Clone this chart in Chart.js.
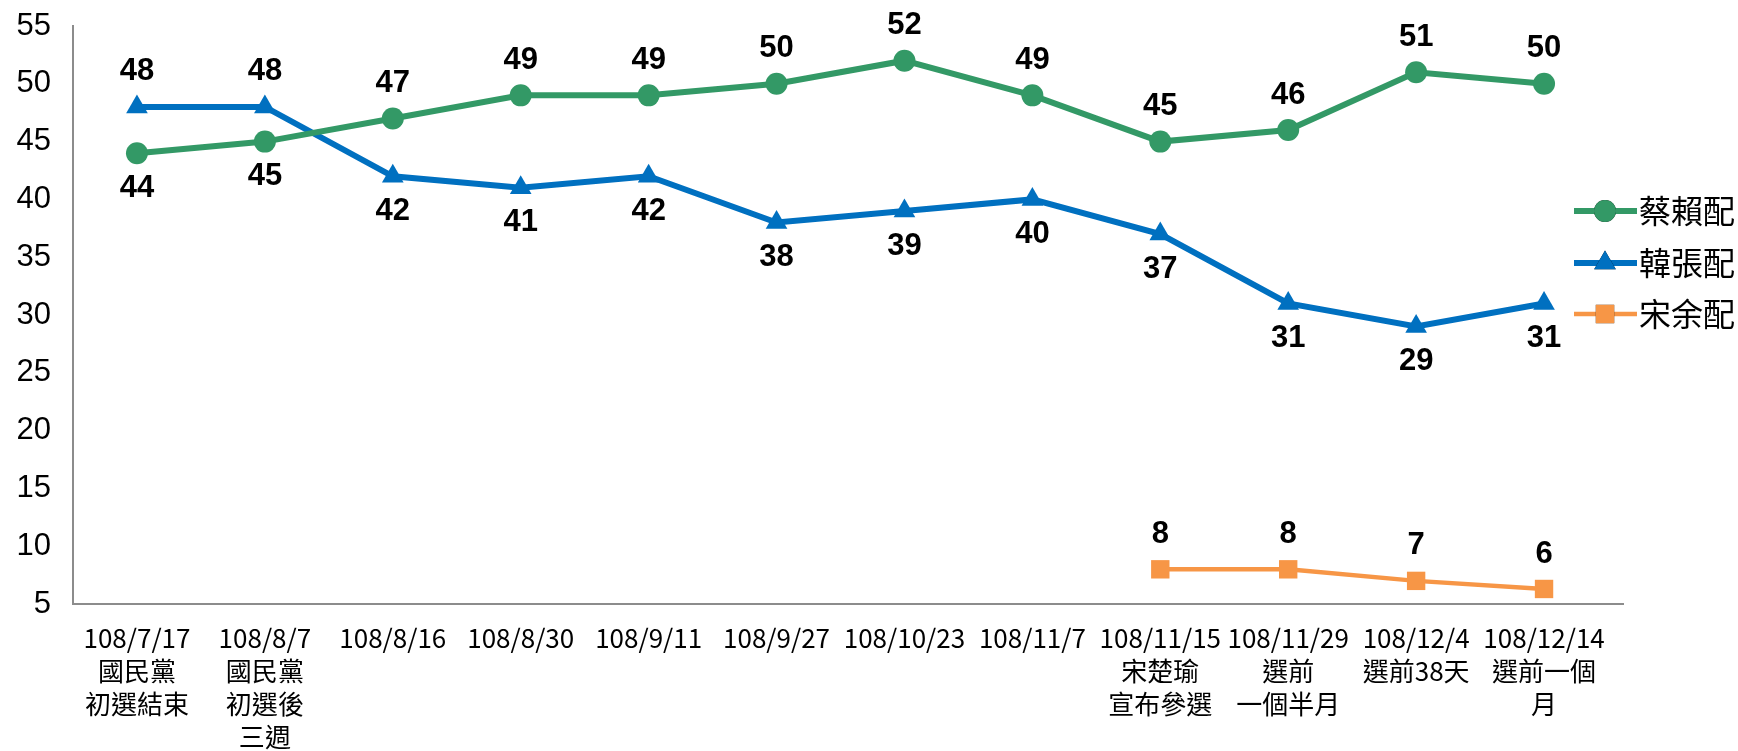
<!DOCTYPE html>
<html>
<head>
<meta charset="utf-8">
<script src="https://cdn.jsdelivr.net/npm/chart.js@4/dist/chart.umd.min.js"></script>
<style>
  html, body { margin: 0; padding: 0; background: #fff; }
  #wrap { width: 1738px; height: 751px; }
</style>
</head>
<body>
<div id="wrap"><canvas id="pollChart" width="1738" height="751"></canvas></div>
<script>
// data
const categories = [
  ["108/7/17", "國民黨", "初選結束"],
  ["108/8/7", "國民黨", "初選後", "三週"],
  "108/8/16",
  "108/8/30",
  "108/9/11",
  "108/9/27",
  "108/10/23",
  "108/11/7",
  ["108/11/15", "宋楚瑜", "宣布參選"],
  ["108/11/29", "選前", "一個半月"],
  ["108/12/4", "選前38天"],
  ["108/12/14", "選前一個", "月"],
];
const tsaiLai = [44, 45, 47, 49, 49, 50, 52, 49, 45, 46, 51, 50];
const hanChang = [48, 48, 42, 41, 42, 38, 39, 40, 37, 31, 29, 31];
const soongYu = [null, null, null, null, null, null, null, null, 8, 8, 7, 6.3];
const seriesNames = ["蔡賴配", "韓張配", "宋余配"];
const yMin = 5, yMax = 55, yStep = 5;

const green = "#339966";
const blue = "#0070c0";
const orange = "#f79646";
const axisGrey = "#8c8c8c";

// which side each value label goes: -1 above, 1 below
const labelSide = [
  [1, 1, -1, -1, -1, -1, -1, -1, -1, -1, -1, -1],
  [-1, -1, 1, 1, 1, 1, 1, 1, 1, 1, 1, 1],
  [-1, -1, -1, -1, -1, -1, -1, -1, -1, -1, -1, -1],
];

const valueLabels = {
  id: "valueLabels",
  afterDatasetsDraw(chart) {
    const ctx = chart.ctx;
    ctx.save();
    ctx.font = "bold 31px 'Liberation Sans', Arial, sans-serif";
    ctx.fillStyle = "#000";
    ctx.textAlign = "center";
    ctx.textBaseline = "middle";
    chart.data.datasets.forEach((ds, i) => {
      const meta = chart.getDatasetMeta(i);
      meta.data.forEach((pt, j) => {
        const v = ds.data[j];
        if (v === null || v === undefined) return;
        ctx.fillText(String(Math.round(v)), pt.x, pt.y + labelSide[i][j] * 35);
      });
    });
    ctx.restore();
  },
};

const sideLegend = {
  id: "sideLegend",
  afterDraw(chart) {
    const ctx = chart.ctx;
    const area = chart.chartArea;
    ctx.save();
    // x axis line runs a little past the last category
    ctx.strokeStyle = axisGrey;
    ctx.lineWidth = 2;
    ctx.beginPath();
    ctx.moveTo(area.right - 1, Math.round(area.bottom));
    ctx.lineTo(area.right + 16, Math.round(area.bottom));
    ctx.stroke();

    const rows = [211, 263, 314];
    chart.data.datasets.forEach((ds, i) => {
      const y = rows[i];
      ctx.strokeStyle = ds.borderColor;
      ctx.lineWidth = ds.borderWidth;
      ctx.beginPath();
      ctx.moveTo(1574, y);
      ctx.lineTo(1637, y);
      ctx.stroke();
      Chart.helpers.drawPoint(ctx, {
        pointStyle: ds.pointStyle,
        radius: ds.pointRadius,
        borderWidth: 0,
      }, 1605, y);
      ctx.fillStyle = ds.borderColor;
      ctx.fill();
      ctx.fillStyle = "#000";
      ctx.font = "32px 'Noto Sans CJK TC', sans-serif";
      ctx.textAlign = "left";
      ctx.textBaseline = "middle";
      ctx.fillText(ds.label, 1639, y);
    });
    ctx.restore();
  },
};

const pollChart = new Chart(document.getElementById("pollChart").getContext("2d"), {
  type: "line",
  data: {
    labels: categories,
    datasets: [
      {
        label: seriesNames[0],
        data: tsaiLai,
        borderColor: green,
        backgroundColor: green,
        borderWidth: 6,
        pointStyle: "circle",
        pointRadius: 11,
        pointBorderWidth: 0,
      },
      {
        label: seriesNames[1],
        data: hanChang,
        borderColor: blue,
        backgroundColor: blue,
        borderWidth: 6,
        pointStyle: "triangle",
        pointRadius: 12.5,
        pointBorderWidth: 0,
      },
      {
        label: seriesNames[2],
        data: soongYu,
        borderColor: orange,
        backgroundColor: orange,
        borderWidth: 4.5,
        pointStyle: "rect",
        pointRadius: 13,
        pointBorderWidth: 0,
      },
    ],
  },
  options: {
    responsive: false,
    animation: false,
    layout: { padding: { top: 26, right: 130, left: 0, bottom: 0 } },
    plugins: {
      legend: { display: false },
      tooltip: { enabled: false },
    },
    scales: {
      x: {
        offset: true,
        grid: { display: false, drawTicks: false },
        border: { display: true, color: axisGrey, width: 2 },
        ticks: {
          color: "#000",
          font: { family: "'Liberation Sans Narrow', 'Noto Sans CJK TC', sans-serif", size: 26, lineHeight: 1.27 },
          padding: 18,
          maxRotation: 0,
          autoSkip: false,
        },
        afterFit(scale) { scale.height = 147; },
      },
      y: {
        min: yMin,
        max: yMax,
        grid: { display: false, drawTicks: false },
        border: { display: true, color: axisGrey, width: 2 },
        ticks: {
          stepSize: yStep,
          color: "#000",
          font: { family: "'Liberation Sans', Arial, sans-serif", size: 31 },
          padding: 22,
        },
        afterFit(scale) {
          scale.width = 73;
          scale.paddingTop = 0;
          scale.paddingBottom = 0;
        },
      },
    },
  },
  plugins: [valueLabels, sideLegend],
});
</script>
</body>
</html>
